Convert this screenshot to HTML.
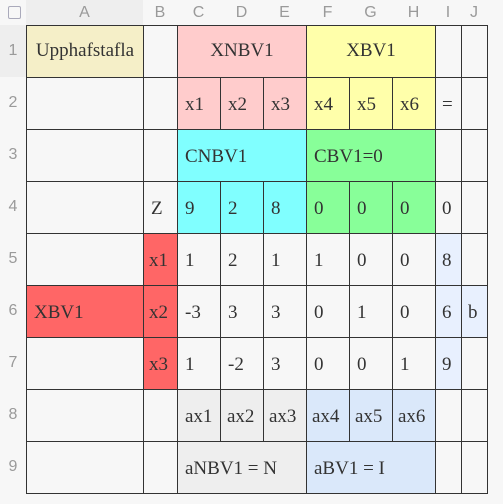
<!DOCTYPE html>
<html><head><meta charset="utf-8"><style>
body{margin:0;width:503px;height:504px;background:#f7f7f7;position:relative;overflow:hidden}
.h{position:absolute;font-family:"Liberation Sans",sans-serif;font-size:16px;color:#9a9a9a;text-align:center;height:25px;line-height:25px}
.r{position:absolute;left:0;width:26px;font-family:"Liberation Sans",sans-serif;font-size:16px;color:#9a9a9a;text-align:center;line-height:52px;height:52px}
.c{position:absolute;box-sizing:border-box;border:1px solid #333;font-family:"Liberation Serif",serif;font-size:19px;color:#333;line-height:54px;padding-left:7px;white-space:nowrap;overflow:hidden}
.m{text-align:center;padding-left:0}
.pk{background:#ffcccc}.yl{background:#ffffaa}.cy{background:#80ffff}.gr{background:#88ff99}.rd{background:#ff6666}.lb{background:#e8f0fe}.gy{background:#eeeeee}.bl{background:#dae8fa}.bg{background:#f5efc8}
</style></head><body>
<div style="position:absolute;left:0;top:0;width:26px;height:25px;background:#f7f7f7"></div>
<div style="position:absolute;left:8px;top:6px;width:11px;height:11px;border:1.5px solid #aab;border-radius:2px"></div>
<div style="position:absolute;left:26px;top:0;width:117px;height:25px;background:#eeeeee"></div>
<div style="position:absolute;left:0;top:25px;width:26px;height:52px;background:#eeeeee"></div>
<div class="h" style="left:26px;width:117px">A</div>
<div class="h" style="left:143px;width:34px">B</div>
<div class="h" style="left:177px;width:43px">C</div>
<div class="h" style="left:220px;width:43px">D</div>
<div class="h" style="left:263px;width:43px">E</div>
<div class="h" style="left:306px;width:43px">F</div>
<div class="h" style="left:349px;width:43px">G</div>
<div class="h" style="left:392px;width:43px">H</div>
<div class="h" style="left:435px;width:26px">I</div>
<div class="h" style="left:461px;width:26px">J</div>
<div class="r" style="top:25px">1</div><div class="r" style="top:77px">2</div><div class="r" style="top:129px">3</div><div class="r" style="top:181px">4</div><div class="r" style="top:233px">5</div><div class="r" style="top:285px">6</div><div class="r" style="top:337px">7</div><div class="r" style="top:389px">8</div><div class="r" style="top:441px">9</div>

<div class="c m bg" style="left:26px;top:25px;width:118px;height:53px;line-height:50px">Upphafstafla</div>
<div class="c" style="left:143px;top:25px;width:35px;height:53px"></div>
<div class="c m pk" style="left:177px;top:25px;width:130px;height:53px;line-height:50px">XNBV1</div>
<div class="c m yl" style="left:306px;top:25px;width:130px;height:53px;line-height:50px">XBV1</div>
<div class="c" style="left:435px;top:25px;width:27px;height:53px"></div>
<div class="c" style="left:461px;top:25px;width:27px;height:53px"></div>

<div class="c" style="left:26px;top:77px;width:118px;height:53px"></div>
<div class="c" style="left:143px;top:77px;width:35px;height:53px"></div>
<div class="c pk" style="left:177px;top:77px;width:44px;height:53px">x1</div>
<div class="c pk" style="left:220px;top:77px;width:44px;height:53px">x2</div>
<div class="c pk" style="left:263px;top:77px;width:44px;height:53px">x3</div>
<div class="c yl" style="left:306px;top:77px;width:44px;height:53px">x4</div>
<div class="c yl" style="left:349px;top:77px;width:44px;height:53px">x5</div>
<div class="c yl" style="left:392px;top:77px;width:44px;height:53px">x6</div>
<div class="c" style="left:435px;top:77px;width:27px;height:53px;padding-left:6px">=</div>
<div class="c" style="left:461px;top:77px;width:27px;height:53px"></div>

<div class="c" style="left:26px;top:129px;width:118px;height:53px"></div>
<div class="c" style="left:143px;top:129px;width:35px;height:53px"></div>
<div class="c cy" style="left:177px;top:129px;width:130px;height:53px">CNBV1</div>
<div class="c gr" style="left:306px;top:129px;width:130px;height:53px">CBV1=0</div>
<div class="c" style="left:435px;top:129px;width:27px;height:53px"></div>
<div class="c" style="left:461px;top:129px;width:27px;height:53px"></div>

<div class="c" style="left:26px;top:181px;width:118px;height:53px"></div>
<div class="c" style="left:143px;top:181px;width:35px;height:53px">Z</div>
<div class="c cy" style="left:177px;top:181px;width:44px;height:53px">9</div>
<div class="c cy" style="left:220px;top:181px;width:44px;height:53px">2</div>
<div class="c cy" style="left:263px;top:181px;width:44px;height:53px">8</div>
<div class="c gr" style="left:306px;top:181px;width:44px;height:53px">0</div>
<div class="c gr" style="left:349px;top:181px;width:44px;height:53px">0</div>
<div class="c gr" style="left:392px;top:181px;width:44px;height:53px">0</div>
<div class="c" style="left:435px;top:181px;width:27px;height:53px;padding-left:6px">0</div>
<div class="c" style="left:461px;top:181px;width:27px;height:53px"></div>

<div class="c" style="left:26px;top:233px;width:118px;height:53px"></div>
<div class="c rd" style="left:143px;top:233px;width:35px;height:53px;padding-left:5px">x1</div>
<div class="c" style="left:177px;top:233px;width:44px;height:53px">1</div>
<div class="c" style="left:220px;top:233px;width:44px;height:53px">2</div>
<div class="c" style="left:263px;top:233px;width:44px;height:53px">1</div>
<div class="c" style="left:306px;top:233px;width:44px;height:53px">1</div>
<div class="c" style="left:349px;top:233px;width:44px;height:53px">0</div>
<div class="c" style="left:392px;top:233px;width:44px;height:53px">0</div>
<div class="c lb" style="left:435px;top:233px;width:27px;height:53px;padding-left:6px">8</div>
<div class="c" style="left:461px;top:233px;width:27px;height:53px"></div>

<div class="c rd" style="left:26px;top:285px;width:118px;height:53px">XBV1</div>
<div class="c rd" style="left:143px;top:285px;width:35px;height:53px;padding-left:5px">x2</div>
<div class="c" style="left:177px;top:285px;width:44px;height:53px">-3</div>
<div class="c" style="left:220px;top:285px;width:44px;height:53px">3</div>
<div class="c" style="left:263px;top:285px;width:44px;height:53px">3</div>
<div class="c" style="left:306px;top:285px;width:44px;height:53px">0</div>
<div class="c" style="left:349px;top:285px;width:44px;height:53px">1</div>
<div class="c" style="left:392px;top:285px;width:44px;height:53px">0</div>
<div class="c lb" style="left:435px;top:285px;width:27px;height:53px;padding-left:6px">6</div>
<div class="c lb" style="left:461px;top:285px;width:27px;height:53px;padding-left:6px">b</div>

<div class="c" style="left:26px;top:337px;width:118px;height:53px"></div>
<div class="c rd" style="left:143px;top:337px;width:35px;height:53px;padding-left:5px">x3</div>
<div class="c" style="left:177px;top:337px;width:44px;height:53px">1</div>
<div class="c" style="left:220px;top:337px;width:44px;height:53px">-2</div>
<div class="c" style="left:263px;top:337px;width:44px;height:53px">3</div>
<div class="c" style="left:306px;top:337px;width:44px;height:53px">0</div>
<div class="c" style="left:349px;top:337px;width:44px;height:53px">0</div>
<div class="c" style="left:392px;top:337px;width:44px;height:53px">1</div>
<div class="c lb" style="left:435px;top:337px;width:27px;height:53px;padding-left:6px">9</div>
<div class="c" style="left:461px;top:337px;width:27px;height:53px"></div>

<div class="c" style="left:26px;top:389px;width:118px;height:53px"></div>
<div class="c" style="left:143px;top:389px;width:35px;height:53px"></div>
<div class="c gy" style="left:177px;top:389px;width:44px;height:53px">ax1</div>
<div class="c gy" style="left:220px;top:389px;width:44px;height:53px;padding-left:6px">ax2</div>
<div class="c gy" style="left:263px;top:389px;width:44px;height:53px;padding-left:5px">ax3</div>
<div class="c bl" style="left:306px;top:389px;width:44px;height:53px;padding-left:5px">ax4</div>
<div class="c bl" style="left:349px;top:389px;width:44px;height:53px;padding-left:5px">ax5</div>
<div class="c bl" style="left:392px;top:389px;width:44px;height:53px;padding-left:5px">ax6</div>
<div class="c" style="left:435px;top:389px;width:27px;height:53px"></div>
<div class="c" style="left:461px;top:389px;width:27px;height:53px"></div>

<div class="c" style="left:26px;top:441px;width:118px;height:53px"></div>
<div class="c" style="left:143px;top:441px;width:35px;height:53px"></div>
<div class="c gy" style="left:177px;top:441px;width:130px;height:53px">aNBV1 = N</div>
<div class="c bl" style="left:306px;top:441px;width:130px;height:53px">aBV1 = I</div>
<div class="c" style="left:435px;top:441px;width:27px;height:53px"></div>
<div class="c" style="left:461px;top:441px;width:27px;height:53px"></div>
</body></html>
